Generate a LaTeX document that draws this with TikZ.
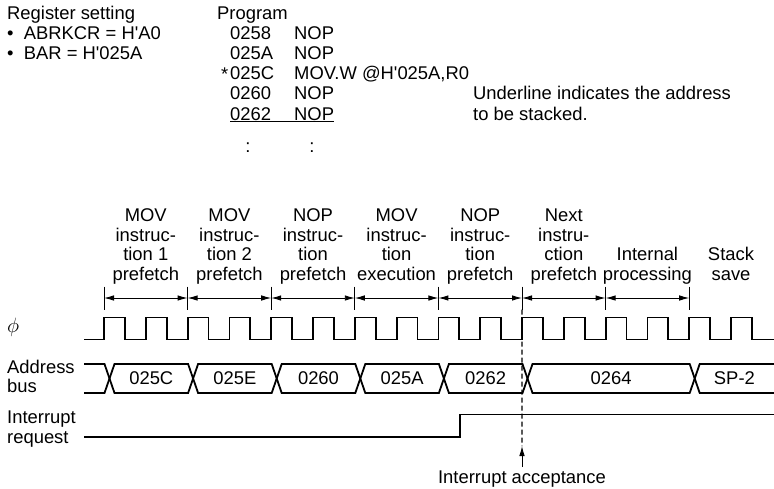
\documentclass[tikz,border=0pt]{standalone}
\usepackage{fontspec}
\setmainfont{Liberation Sans}[Ligatures=TeXOff]
\usepackage{tikz}
\usetikzlibrary{arrows.meta,positioning,calc}
\newcommand{\figfont}{\fontsize{18.4}{19.6}\selectfont}

\begin{document}
\begin{tikzpicture}[x=1pt,y=-1pt,>={Latex[length=10pt,width=5.5pt]},font=\figfont]
  \tikzset{txt/.style={inner sep=0pt, anchor=base west},
    phase/.style={inner sep=0pt, anchor=south, align=center},
    wave/.style={line width=1.8pt, line join=miter},
    tick/.style={line width=0.9pt}}
  \useasboundingbox (0,0) rectangle (774,488);
  % register setting and program listing
  \foreach \t [count=\i from 0] in {Register setting,{\textbullet\ \ ABRKCR = H'A0},{\textbullet\ \ BAR = H'025A}}
    {\node[txt] (reg\i) at (7,{19.1+20.2*\i}) {\t};}
  \node[txt] (prog) at (217,19.1) {Program};
  \foreach \a/\b [count=\i] in {0258/NOP,025A/NOP,025C/{MOV.W @H'025A,R0},0260/NOP}
    {\node[txt] (ad\i) at (230,{19.1+20.2*\i}) {\a};
     \node[txt] (in\i) at (294,{19.1+20.2*\i}) {\b};}
  \node[txt] (ad5) at (230,120.1) {\underline{\makebox[64pt][l]{0262}NOP}};
  \node[txt, anchor=base east] (ast) at (228.5,80.5) {*};
  \node[txt, anchor=base] (dots1) at (248,152.5) {:};
  \node[txt, anchor=base] (dots2) at (312,152.5) {:};
  \node[txt] (note1) at (473,99.9) {Underline indicates the address};
  \node[txt] (note2) at (473,120.1) {to be stacked.};
  % phase labels and markers
  \foreach \t [count=\i from 0] in {{MOV\\instruc-\\tion 1\\prefetch},{MOV\\instruc-\\tion 2\\prefetch},
      {NOP\\instruc-\\tion\\prefetch},{MOV\\instruc-\\tion\\execution},{NOP\\instruc-\\tion\\prefetch},
      {Next\\instru-\\ction\\prefetch},{Internal\\processing},{Stack\\save}}
    {\node[phase] (ph\i) at ({145.8+83.6*\i},286.5) {\t\strut};}
  \foreach \i in {0,...,7}
    {\coordinate (m\i) at ({104+83.6*\i},298);
     \draw[tick] (m\i) ++(0,-11.5) -- ++(0,23);}
  \foreach \a/\b in {m0/m1,m1/m2,m2/m3,m3/m4,m4/m5,m5/m6,m6/m7}{\draw[tick,<->] (\a) -- (\b);}
  % signal names
  \node[txt] (phi) at (7,332) {\fontsize{22}{22}\selectfont$\phi$};
  \node[txt] (bus1) at (7,373.3) {Address};
  \node[txt] (bus2) at (7,392.9) {bus};
  \node[txt] (irq1) at (7,423.5) {Interrupt};
  \node[txt] (irq2) at (7,443.1) {request};
  % clock
  \draw[wave] (84,339.5) foreach \k in {0,...,15}
    { -- ({104+41.8*\k},339.5) -- ++(0,-22) -- ++(20.9,0) -- ++(0,22) } -- (774,339.5);
  % address bus
  \draw[wave] (84,364) -- (104.5,364) -- (109.5,378.5) -- (104.5,393) -- (84,393);
  \foreach \a/\b/\v [count=\i] in {109.5/193.1/025C,193.1/276.7/025E,276.7/360.3/0260,
      360.3/443.9/025A,443.9/527.5/0262,527.5/694.7/0264}
    {\draw[wave] (\a,378.5) -- ({\a+5},364) -- ({\b-5},364) -- (\b,378.5) -- ({\b-5},393) -- ({\a+5},393) -- cycle;
     \node (v\i) at ({(\a+\b)/2},378.5) {\v};}
  \draw[wave] (774,364) -- (699.7,364) -- (694.7,378.5) -- (699.7,393) -- (774,393);
  \node (v7) at (734.4,378.5) {SP-2};
  % interrupt request
  \draw[wave] (84,437) -- (460,437) -- (460,414.5) -- (774,414.5);
  % interrupt acceptance
  \coordinate (acctip) at (522,446);
  \node[anchor=base] (acc) at (522,483.3) {Interrupt acceptance};
  \draw[line width=1.3pt, dash pattern=on 5pt off 3pt] (m5) ++(0,11.5) -- (acctip);
  \draw[tick,->] (acc.north) -- (acctip);
\end{tikzpicture}
\end{document}
